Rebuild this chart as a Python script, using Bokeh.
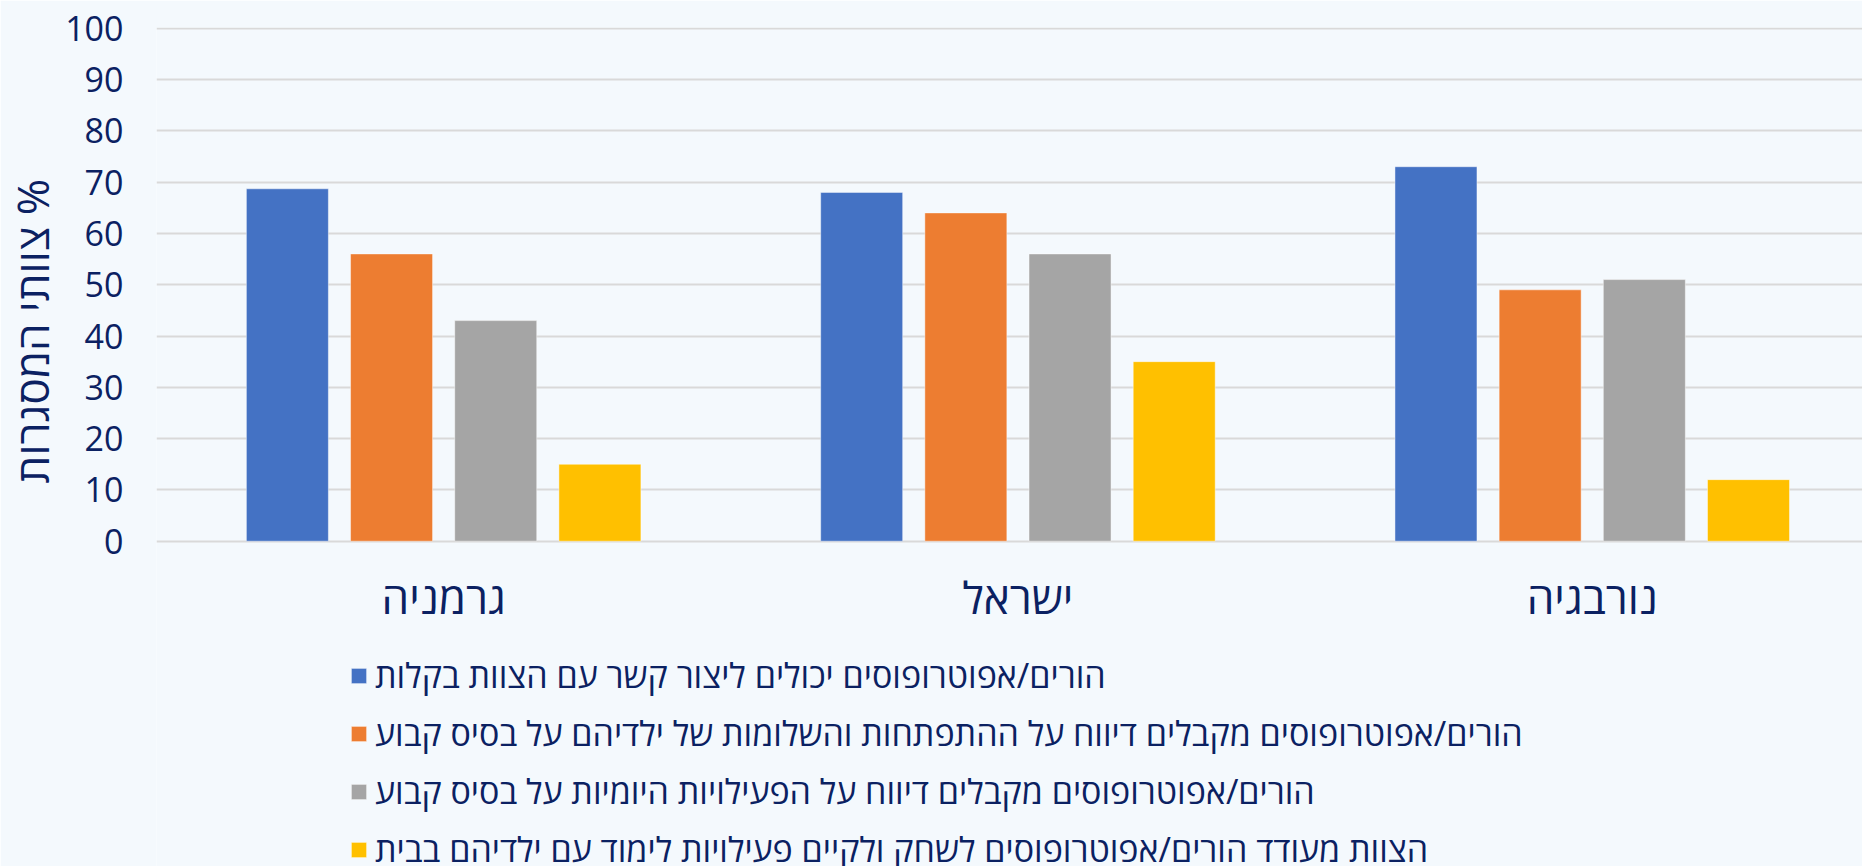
import numpy as np
from bokeh.plotting import figure
from bokeh.models import Range1d, FixedTicker, Legend, LegendItem, ColumnDataSource, Title
from bokeh.core.properties import value
from bokeh.embed import file_html
from bokeh.resources import INLINE

# ---------------- data ----------------
countries = ["גרמניה", "ישראל", "נורבגיה"]
series_names = [
    "הורים/אפוטרופוסים יכולים ליצור קשר עם הצוות בקלות",
    "הורים/אפוטרופוסים מקבלים דיווח על ההתפתחות והשלומות של ילדיהם על בסיס קבוע",
    "הורים/אפוטרופוסים מקבלים דיווח על הפעילויות היומיות על בסיס קבוע",
    "הצוות מעודד הורים/אפוטרופוסים לשחק ולקיים פעילויות לימוד עם ילדיהם בבית",
]
easy_contact = [68.7, 68.0, 73.0]
development_report = [56.0, 64.0, 49.0]
daily_report = [43.0, 56.0, 51.0]
home_learning = [15.0, 35.0, 12.0]
y_ticks = [0, 10, 20, 30, 40, 50, 60, 70, 80, 90, 100]
y_title = "\u200f% צוותי המסגרות"

series = [easy_contact, development_report, daily_report, home_learning]
colors = ["#4472C4", "#ED7D31", "#A5A5A5", "#FFC000"]

# ---------------- style ----------------
NAVY = "#0B2162"
BG = "#F4F9FD"
FONT = "Open Sans"

p = figure(
    width=1862, height=866,
    x_range=Range1d(0, 2.9706), y_range=Range1d(-63.41, 100.14),
    output_backend="svg", toolbar_location=None,
    min_border_left=156, min_border_right=0, min_border_top=27, min_border_bottom=0,
)
p.background_fill_color = BG
p.border_fill_color = BG
p.outline_line_color = None

n = len(countries)
base = np.arange(n) + 0.5
bar_w = 0.1428
step = 0.1814

renderers = []
for k, (vals, col) in enumerate(zip(series, colors)):
    src = ColumnDataSource(dict(x=base + (k - 1.5) * step, top=vals))
    r = p.vbar(x="x", top="top", bottom=0, width=bar_w, source=src,
               fill_color=col, line_color="white", line_alpha=0.45, line_width=1)
    renderers.append(r)

# axes & grid
p.xaxis.visible = False
p.xgrid.visible = False
p.yaxis.ticker = FixedTicker(ticks=y_ticks)
p.ygrid.ticker = FixedTicker(ticks=y_ticks)
p.ygrid.grid_line_color = "#D9D9D9"
p.ygrid.grid_line_width = 2
p.yaxis.axis_line_color = None
p.yaxis.major_tick_line_color = None
p.yaxis.minor_tick_line_color = None
p.yaxis.major_tick_in = 0
p.yaxis.major_tick_out = 0
p.yaxis.major_label_standoff = 33
p.yaxis.major_label_text_font = FONT
p.yaxis.major_label_text_font_size = "34px"
p.yaxis.major_label_text_color = NAVY

# category labels
p.text(x=base, y=[-10.8] * n, text=countries, text_align="center", text_baseline="middle",
       text_font=value(FONT), text_font_size="44px", text_color=NAVY)

# y title (left panel, anchored from the bottom of the frame)
p.add_layout(Title(text=y_title, align="left", offset=383, vertical_align="middle", standoff=0,
                   text_font=FONT, text_font_size="44px", text_font_style="normal",
                   text_line_height=0.8, text_color=NAVY), "left")

legend = Legend(
    items=[LegendItem(label=nm, renderers=[r]) for nm, r in zip(series_names, renderers)],
    location=(193, -6), orientation="vertical", padding=0, margin=0, spacing=12,
    glyph_width=19, glyph_height=19, label_standoff=7,
    label_text_font=FONT, label_text_font_size="34px", label_text_color=NAVY,
    background_fill_alpha=0, border_line_alpha=0,
)
p.add_layout(legend)

html = file_html(p, INLINE)
html = html.replace("<body>", '<body style="background-color:%s;">' % BG, 1)
open("out.html", "w").write(html)
